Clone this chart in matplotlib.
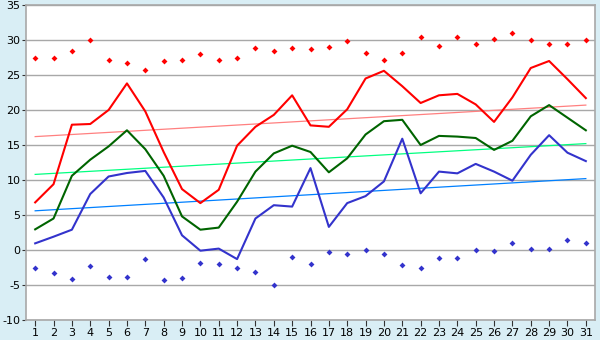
import numpy as np
from matplotlib import pyplot as plt

plt.rcParams['axes.unicode_minus'] = False

days = list(range(1, 32))
t_max = [6.8, 9.4, 17.9, 18.0, 20.0, 23.8, 19.8, 14.0, 8.7, 6.7,
         8.6, 14.9, 17.6, 19.3, 22.1, 17.8, 17.6, 20.1, 24.5, 25.6,
         23.4, 21.0, 22.1, 22.3, 20.8, 18.3, 21.8, 26.0, 27.0, 24.4, 21.7]
t_avg = [2.95, 4.5, 10.6, 12.9, 14.8, 17.1, 14.4, 10.6, 4.8, 2.9,
         3.2, 6.9, 11.2, 13.8, 14.9, 14.0, 11.1, 13.1, 16.5, 18.4,
         18.6, 15.0, 16.3, 16.2, 16.0, 14.3, 15.6, 19.1, 20.7, 18.9, 17.1]
t_min = [0.95, 1.9, 2.9, 8.0, 10.5, 11.0, 11.3, 7.5, 2.1, -0.1,
         0.2, -1.3, 4.5, 6.4, 6.2, 11.7, 3.3, 6.7, 7.7, 9.8,
         15.9, 8.1, 11.2, 10.95, 12.3, 11.2, 9.9, 13.6, 16.4, 13.9, 12.7]
rec_max = [27.4, 27.4, 28.4, 30.0, 27.2, 26.7, 25.7, 27.0, 27.2, 28.0,
           27.1, 27.4, 28.8, 28.4, 28.8, 28.7, 29.0, 29.8, 28.2, 27.2,
           28.1, 30.4, 29.1, 30.4, 29.4, 30.1, 31.0, 30.0, 29.5, 29.4, 30.0]
rec_min = [-2.6, -3.3, -4.2, -2.3, -3.9, -3.8, -1.3, -4.3, -4.0, -1.8,
           -2.0, -2.5, -3.2, -5.0, -1.0, -2.0, -0.3, -0.6, 0.0, -0.5,
           -2.2, -2.6, -1.2, -1.2, 0.0, -0.2, 1.0, 0.1, 0.2, 1.5, 1.0]
# long-term trend values at day 1 and day 31
trend_max = [16.2, 20.7]
trend_avg = [10.8, 15.2]
trend_min = [5.6, 10.2]

bg = '#d9eef5'
fig = plt.figure(figsize=(6, 3.4), dpi=100, facecolor=bg)
ax = fig.add_axes([26 / 600, 1 - 320 / 340, 569 / 600, 315 / 340])
ax.set_facecolor('white')

ends = [days[0], days[-1]]
ax.plot(ends, trend_max, color='#ff8080', lw=0.9, zorder=2)
ax.plot(ends, trend_avg, color='#00ff80', lw=0.9, zorder=2)
ax.plot(ends, trend_min, color='#0080ff', lw=0.9, zorder=2)

ax.plot(days, t_max, color='#ff0000', lw=1.5, zorder=3)
ax.plot(days, t_avg, color='#006400', lw=1.5, zorder=3)
ax.plot(days, t_min, color='#3333cc', lw=1.5, zorder=3)
ax.plot(days, rec_max, 'D', color='#ff0000', ms=3, mew=0, zorder=4)
ax.plot(days, rec_min, 'D', color='#3333cc', ms=3, mew=0, zorder=4)

ax.set_xlim(0.5, 31.5)
ax.set_ylim(-10, 35)
ax.set_xticks(days)
ax.set_yticks(range(-10, 36, 5))
ax.yaxis.grid(True, color='#a8a8a8', lw=1)
ax.set_axisbelow(True)
for s in ax.spines.values():
    s.set_color('#a8a8a8')
    s.set_linewidth(1.2)
ax.tick_params(axis='x', length=4, color='#333333', labelsize=8, pad=2)
ax.tick_params(axis='y', length=3, color='#333333', labelsize=8, pad=1)

plt.savefig('out.png', dpi=100, facecolor=bg)
